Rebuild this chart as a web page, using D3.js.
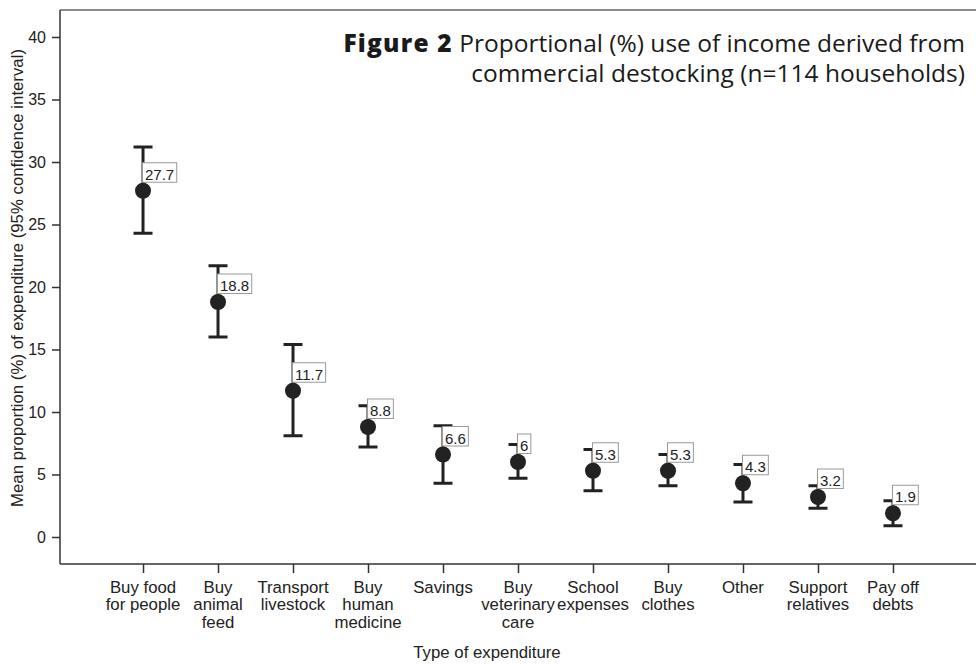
<!DOCTYPE html>
<html>
<head>
<meta charset="utf-8">
<script src="https://cdn.jsdelivr.net/npm/d3@7"></script>
<style>
  html, body { margin: 0; padding: 0; background: #fff; }
  svg { display: block; }
</style>
</head>
<body>
<svg id="chart" width="976" height="666"></svg>
<script>
// Expenditure categories (label lines) and their statistics
const categories = [
  ["Buy food", "for people"],
  ["Buy", "animal", "feed"],
  ["Transport", "livestock"],
  ["Buy", "human", "medicine"],
  ["Savings"],
  ["Buy", "veterinary", "care"],
  ["School", "expenses"],
  ["Buy", "clothes"],
  ["Other"],
  ["Support", "relatives"],
  ["Pay off", "debts"]
];
const means = [27.7, 18.8, 11.7, 8.8, 6.6, 6, 5.3, 5.3, 4.3, 3.2, 1.9];
const ciLower = [24.3, 16.0, 8.1, 7.2, 4.3, 4.7, 3.7, 4.1, 2.8, 2.3, 0.9];
const ciUpper = [31.2, 21.7, 15.4, 10.5, 8.9, 7.4, 7.0, 6.6, 5.8, 4.1, 2.9];
const yTicks = [0, 5, 10, 15, 20, 25, 30, 35, 40];

const svg = d3.select("#chart");
const ink = "#222";
const sans = "'Liberation Sans', Arial, sans-serif";
const plotL = 60, plotR = 976, plotT = 10, plotB = 564;

const x = d3.scalePoint()
  .domain(d3.range(categories.length))
  .range([plotL, plotR])
  .padding(1.107);

const y = d3.scaleLinear()
  .domain([-2.16, 42.16])
  .range([plotB, plotT]);

// Frame line along the top
svg.append("line")
  .attr("x1", plotL).attr("x2", plotR).attr("y1", plotT).attr("y2", plotT)
  .attr("stroke", "#666").attr("stroke-width", 1.5);

// Y axis
const yAxis = svg.append("g")
  .attr("transform", `translate(${plotL},0)`)
  .call(d3.axisLeft(y).tickValues(yTicks).tickSize(8).tickPadding(6).tickSizeOuter(0));
yAxis.select(".domain").remove();
svg.append("line")
  .attr("x1", plotL).attr("x2", plotL).attr("y1", plotT).attr("y2", plotB)
  .attr("stroke", "#333").attr("stroke-width", 1.5);
yAxis.selectAll(".tick line").attr("stroke", "#333").attr("stroke-width", 1.5);
yAxis.selectAll(".tick text")
  .attr("fill", ink)
  .style("font-family", sans)
  .style("font-size", "16px");

// X axis
const xAxis = svg.append("g")
  .attr("transform", `translate(0,${plotB})`)
  .call(d3.axisBottom(x).tickSize(9).tickFormat(""));
xAxis.select(".domain").remove();
svg.append("line")
  .attr("x1", plotL).attr("x2", plotR).attr("y1", plotB).attr("y2", plotB)
  .attr("stroke", "#333").attr("stroke-width", 1.5);
xAxis.selectAll(".tick line").attr("stroke", "#333").attr("stroke-width", 1.5);

// Multi-line category labels
const catLabels = svg.append("g")
  .style("font-family", sans)
  .style("font-size", "16.8px")
  .attr("fill", ink)
  .attr("text-anchor", "middle");
categories.forEach((lines, i) => {
  const t = catLabels.append("text").attr("x", x(i)).attr("y", plotB + 28.5);
  lines.forEach((ln, j) => {
    t.append("tspan").attr("x", x(i)).attr("dy", j === 0 ? 0 : 17.5).text(ln);
  });
});

// Axis titles
svg.append("text")
  .attr("x", 487).attr("y", 658)
  .attr("text-anchor", "middle")
  .attr("fill", ink)
  .style("font-family", sans)
  .style("font-size", "16.8px")
  .text("Type of expenditure");

svg.append("text")
  .attr("transform", "translate(23,278) rotate(-90)")
  .attr("text-anchor", "middle")
  .attr("fill", ink)
  .style("font-family", sans)
  .style("font-size", "16.8px")
  .text("Mean proportion (%) of expenditure (95% confidence interval)");

// Error bars
const capW = 9.5;
const bars = svg.append("g").attr("stroke", ink).attr("stroke-width", 3);
means.forEach((m, i) => {
  const cx = x(i);
  bars.append("line").attr("x1", cx).attr("x2", cx)
    .attr("y1", y(ciLower[i])).attr("y2", y(ciUpper[i]));
  bars.append("line").attr("x1", cx - capW).attr("x2", cx + capW)
    .attr("y1", y(ciUpper[i])).attr("y2", y(ciUpper[i]));
  bars.append("line").attr("x1", cx - capW).attr("x2", cx + capW)
    .attr("y1", y(ciLower[i])).attr("y2", y(ciLower[i]));
});

// Mean markers
svg.append("g").selectAll("circle")
  .data(means)
  .join("circle")
  .attr("cx", (d, i) => x(i))
  .attr("cy", d => y(d))
  .attr("r", 8)
  .attr("fill", ink);

// Value labels in boxes
const valG = svg.append("g")
  .style("font-family", sans)
  .style("font-size", "15px");
means.forEach((m, i) => {
  const bx = x(i) - 0.5, byBottom = y(m) - 8.5;
  const g = valG.append("g");
  const t = g.append("text")
    .attr("x", bx + 2.5).attr("y", byBottom - 2.5)
    .attr("fill", ink)
    .text(String(m));
  const w = t.node().getComputedTextLength();
  g.insert("rect", "text")
    .attr("x", bx).attr("y", byBottom - 19.5)
    .attr("width", w + 5).attr("height", 19.5)
    .attr("fill", "#fff")
    .attr("stroke", "#999").attr("stroke-width", 1);
});

// Figure caption
const cap = svg.append("text")
  .attr("text-anchor", "end")
  .attr("fill", "#1a1a1a")
  .style("font-family", "'Open Sans', 'Noto Sans', sans-serif")
  .style("font-size", "24.5px");
const l1 = cap.append("tspan").attr("x", 965).attr("y", 52);
l1.append("tspan").attr("font-weight", "800").attr("letter-spacing", "1.2px").text("Figure 2");
l1.append("tspan").attr("letter-spacing", "0").text(" Proportional (%) use of income derived from");
cap.append("tspan").attr("x", 965).attr("y", 82).text("commercial destocking (n=114 households)");
</script>
</body>
</html>
